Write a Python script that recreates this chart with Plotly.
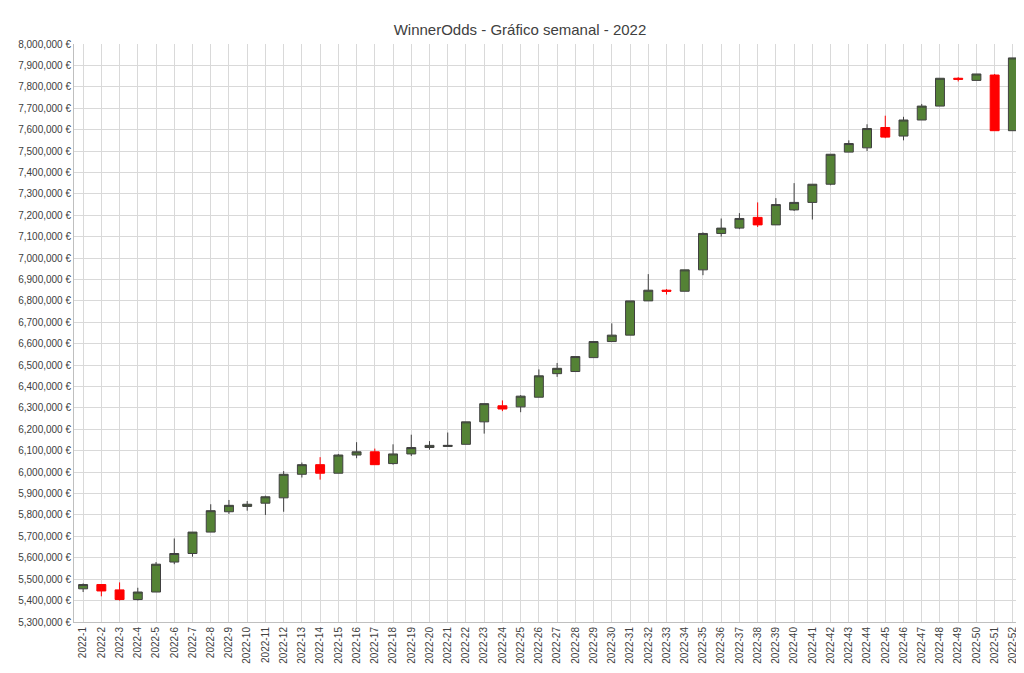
import plotly.graph_objects as go

# semanas 2022 (valores en miles de €)
semanas = [f"2022-{i}" for i in range(1, 53)]
apertura = [5455, 5475, 5450, 5405, 5440, 5580, 5620, 5720, 5815, 5840, 5855, 5880, 5990, 6035, 5995, 6080,
            6095, 6040, 6085, 6115, 6120, 6130, 6235, 6310, 6305, 6350, 6460, 6470, 6535, 6610, 6640, 6800,
            6850, 6845, 6945, 7115, 7140, 7190, 7155, 7225, 7260, 7345, 7495, 7515, 7610, 7570, 7645, 7710,
            7840, 7830, 7855, 7595]
maximo = [5480, 5475, 5485, 5460, 5580, 5690, 5720, 5850, 5870, 5865, 5890, 6005, 6045, 6070, 6085, 6140,
          6110, 6130, 6175, 6145, 6185, 6235, 6320, 6335, 6360, 6480, 6510, 6540, 6610, 6695, 6800, 6925,
          6855, 6945, 7120, 7185, 7210, 7260, 7280, 7350, 7345, 7485, 7550, 7625, 7665, 7660, 7720, 7840,
          7845, 7860, 7860, 7935]
minimo = [5440, 5420, 5400, 5400, 5440, 5570, 5605, 5720, 5805, 5820, 5800, 5815, 5975, 5965, 5995, 6065,
          6035, 6035, 6075, 6105, 6120, 6130, 6180, 6285, 6280, 6350, 6445, 6470, 6535, 6610, 6640, 6800,
          6830, 6845, 6920, 7100, 7135, 7145, 7155, 7220, 7180, 7340, 7495, 7500, 7560, 7550, 7645, 7710,
          7825, 7830, 7595, 7595]
cierre = [5475, 5445, 5405, 5440, 5570, 5620, 5720, 5820, 5845, 5850, 5885, 5990, 6035, 5995, 6080, 6095,
          6035, 6085, 6115, 6125, 6125, 6235, 6320, 6295, 6355, 6450, 6485, 6540, 6610, 6640, 6800, 6850,
          6845, 6945, 7115, 7140, 7185, 7155, 7250, 7260, 7345, 7485, 7535, 7605, 7565, 7645, 7710, 7840,
          7835, 7860, 7595, 7935]

k = lambda v: [x * 1000 for x in v]

fig = go.Figure(go.Candlestick(
    x=semanas, open=k(apertura), high=k(maximo), low=k(minimo), close=k(cierre),
    increasing=dict(fillcolor='#548235', line=dict(color='#404040', width=1)),
    decreasing=dict(fillcolor='#FF0000', line=dict(color='#FF0000', width=1)),
    whiskerwidth=0, showlegend=False,
))

fig.update_layout(
    title=dict(text='WinnerOdds - Gráfico semanal - 2022', x=0.5, y=0.975,
               font=dict(size=15, color='#404040')),
    font=dict(family='Liberation Sans, Arial', size=10, color='#404040'),
    width=1024, height=673,
    margin=dict(l=66, r=10, t=36, b=59),
    plot_bgcolor='white', paper_bgcolor='white',
    xaxis=dict(type='category', rangeslider=dict(visible=False), tickangle=-90,
               range=[-0.5, 51.5],
               showgrid=True, gridcolor='#d9d9d9', linecolor='#bfbfbf', ticks='',
               tickfont=dict(size=10)),
    yaxis=dict(range=[5300000, 8000000], dtick=100000, tickformat=',.0f', ticksuffix=' €',
               showgrid=True, gridcolor='#d9d9d9', linecolor='#bfbfbf', showline=True,
               tickfont=dict(size=10)),
)

fig.write_html("out.html")
